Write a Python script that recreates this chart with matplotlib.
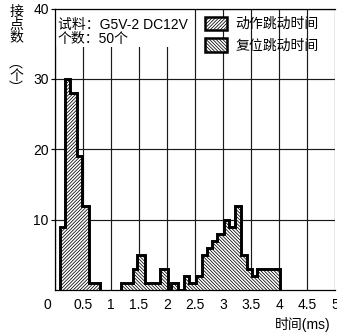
import matplotlib
matplotlib.use("Agg")
import matplotlib.pyplot as plt
import matplotlib.transforms as mtransforms
from matplotlib.patches import Patch, Rectangle

# Bounce-time histograms (bin edges in ms, counts per bin)
operate_edges = [0.09, 0.17, 0.27, 0.39, 0.49, 0.60, 0.80]
operate_counts = [9, 30, 28, 19, 12, 1]

release_edges = [1.18, 1.40, 1.47, 1.60, 1.88, 2.01, 2.07, 2.20, 2.30, 2.40,
                 2.51, 2.62, 2.71, 2.81, 2.90, 3.02, 3.11, 3.21, 3.32, 3.42,
                 3.52, 3.61, 4.02]
release_counts = [1, 3, 5, 1, 3, 0, 1, 0, 2, 1, 2, 5, 6, 7, 8, 10, 9, 12, 5,
                  3, 2, 3]

x_ticks = [0, 0.5, 1, 1.5, 2, 2.5, 3, 3.5, 4, 4.5, 5]
x_tick_labels = ["0", "0.5", "1", "1.5", "2", "2.5", "3", "3.5", "4", "4.5", "5"]
y_ticks = [10, 20, 30, 40]
y_tick_labels = ["10", "20", "30", "40"]

legend_labels = ["动作跳动时间", "复位跳动时间"]
sample_lines = ["试料：G5V-2 DC12V", "个数：50个"]
y_caption_top = "接\n点\n数"
y_caption_unit = "︵\n个\n︶"
x_label = "时间(ms)"

FONT = ["Liberation Sans", "Noto Sans CJK SC", "DejaVu Sans"]
CJK = ["Noto Sans CJK SC", "DejaVu Sans"]
plt.rcParams["font.family"] = FONT
plt.rcParams["hatch.linewidth"] = 0.55
FS = 10

W, H = 337, 332
fig = plt.figure(figsize=(W / 100, H / 100), dpi=100)
left, right, top, bottom = 55, 335, 8.5, 290
ax = fig.add_axes([left / W, 1 - bottom / H, (right - left) / W, (bottom - top) / H])

ax.set_xlim(0, 5)
ax.set_ylim(0, 40)
ax.set_axisbelow(True)
ax.grid(True, color="#1a1a1a", linewidth=0.85)

# white panel behind the sample description
ax.add_patch(Rectangle((0, 0.863), 0.496, 0.137, transform=ax.transAxes,
                       facecolor="white", edgecolor="none", zorder=1))

hatch_op = "//////////"
hatch_rel = "\\" * 10
for edges, counts, hatch in ((operate_edges, operate_counts, hatch_op),
                             (release_edges, release_counts, hatch_rel)):
    ax.stairs(counts, edges, fill=True, facecolor="white", edgecolor="black",
              hatch=hatch, linewidth=0, zorder=2)
    ax.stairs(counts, edges, fill=False, color="black", linewidth=2.1,
              zorder=3)

ax.set_xticks(x_ticks)
ax.set_xticklabels(x_tick_labels, fontsize=FS)
ax.set_yticks(y_ticks)
ax.set_yticklabels(y_tick_labels, fontsize=FS)
ax.tick_params(axis="x", length=0, pad=5.5)
ax.tick_params(axis="y", length=3, width=0.85, pad=1.5)

# shift the corner "0" label left
x0_label = ax.get_xticklabels()[0]
x0_label.set_transform(x0_label.get_transform() +
                       mtransforms.ScaledTranslation(-8 / 100, 0, fig.dpi_scale_trans))

for side in ("left", "top", "bottom"):
    ax.spines[side].set_linewidth(0.9)
ax.spines["right"].set_visible(False)

# sample description
fig.text(58 / W, 1 - 25 / H, sample_lines[0], fontsize=FS, va="center", ha="left")
fig.text(58 / W, 1 - 38.5 / H, sample_lines[1], fontsize=FS, va="center", ha="left")

handles = [Patch(facecolor="white", edgecolor="black", hatch=hatch_op, linewidth=1.8),
           Patch(facecolor="white", edgecolor="black", hatch=hatch_rel, linewidth=1.8)]
leg = ax.legend(handles, legend_labels, loc="upper left",
                bbox_to_anchor=(205 / W, 1 - 16.5 / H), bbox_transform=fig.transFigure,
                frameon=False, handlelength=1.6, handleheight=1.15,
                handletextpad=0.6, labelspacing=0.5, borderpad=0, borderaxespad=0,
                prop={"family": CJK, "size": FS})

# stacked vertical y-axis caption
fig.text(16 / W, 1 - 24.5 / H, y_caption_top, fontsize=FS, va="center",
         ha="center", family=CJK, linespacing=0.85)
fig.text(16 / W, 1 - 76 / H, y_caption_unit, fontsize=FS, va="center",
         ha="center", family=CJK, linespacing=0.85)

fig.text(331 / W, 1 - 324 / H, x_label, fontsize=FS, va="center", ha="right")

fig.savefig("out.png", dpi=100)
